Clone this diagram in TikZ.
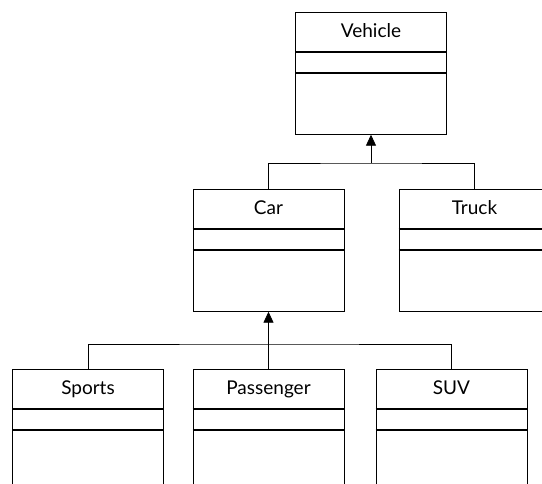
\documentclass[tikz,border=0pt]{standalone}
\usepackage{fontspec}
\setmainfont{Lato}
\usetikzlibrary{arrows.meta, calc}

\begin{document}
\begin{tikzpicture}[
    x=1pt, y=-1pt,
    classbox/.style={rectangle, draw, line width=0.7pt, minimum width=151pt,
                     minimum height=122pt, anchor=north, inner sep=0pt},
    classname/.style={font=\fontsize{19}{22}\selectfont, inner sep=0pt, anchor=base},
    divider/.style={line width=1.1pt},
    link/.style={line width=0.8pt},
    inherit/.style={-{Triangle[width=10pt, length=11pt]}, line width=0.8pt},
]
\path[use as bounding box, clip] (0,0) rectangle (542,484);

% class boxes
\foreach \n/\t/\x/\y in {veh/Vehicle/371/12, car/Car/268.5/189, truck/Truck/474.5/189,
    sports/Sports/88/369, pass/Passenger/268.5/369, suv/SUV/451.5/369} {
  \node[classbox] (\n) at (\x,\y) {};
  \node[classname] (\n-name) at ($(\n.north)+(0,25.5)$) {\t};
  \draw[divider] ($(\n.north west)+(0,40)$) -- ($(\n.north east)+(0,40)$);
  \draw[divider] ($(\n.north west)+(0,61)$) -- ($(\n.north east)+(0,61)$);
}

% generalisation to Vehicle
\coordinate (j1) at (veh.south |- 0,163);
\draw[link] (car.north) |- (j1) -| (truck.north);
\draw[inherit] (j1) -- (veh.south);

% generalisation to Car
\coordinate (j2) at (car.south |- 0,344);
\draw[link] (sports.north) |- (j2) -| (suv.north);
\draw[inherit] (pass.north) -- (car.south);

\end{tikzpicture}
\end{document}
